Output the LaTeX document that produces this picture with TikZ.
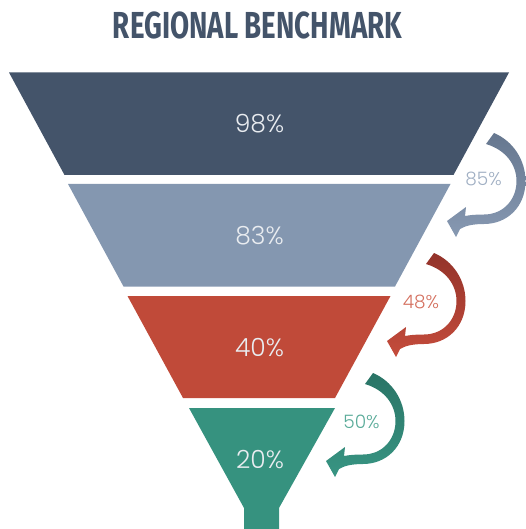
\documentclass[tikz,border=0pt]{standalone}
\usepackage{fontspec}
\newfontfamily\numfont{Poppins Light}
\newfontfamily\titlefont{Fira Sans}
\definecolor{slate}{HTML}{44546A}
\definecolor{slatelight}{HTML}{8497B0}
\definecolor{brick}{HTML}{C04A39}
\definecolor{teal}{HTML}{36927F}
\definecolor{slatearrowtop}{HTML}{66778F}
\definecolor{slatearrowbot}{HTML}{8799B2}
\definecolor{brickarrowtop}{HTML}{93332A}
\definecolor{brickarrowbot}{HTML}{C54C3C}
\definecolor{tealarrowtop}{HTML}{2A7466}
\definecolor{tealarrowbot}{HTML}{389583}
\definecolor{slatetext}{HTML}{A0AFC3}
\definecolor{bricktext}{HTML}{D4705F}
\definecolor{tealtext}{HTML}{5AAB99}
\definecolor{bandtext}{HTML}{E9ECF0}
\tikzset{
  bandlabel/.style={font=\numfont\fontsize{25}{25}\selectfont, text=bandtext, inner sep=0pt},
  sidelabel/.style={font=\numfont\fontsize{18.5}{18.5}\selectfont, inner sep=0pt},
}
% curved return arrow beside a funnel band: #1 shift, #2 top colour, #3 lower colour
\newcommand\returnarrow[3]{%
  \begin{scope}[shift={#1}]
    \shade[top color=#2, bottom color=#3]
      (494,133) .. controls (513,141) and (525.5,160) .. (525.5,181)
      .. controls (525.5,207) and (507,224) .. (484,224)
      .. controls (472,224) and (465,226) .. (460,229)
      -- (456,237) -- (447,221) -- (466,207) -- (465,216)
      .. controls (470,215) and (476,214.5) .. (484,214.5)
      .. controls (503,214.5) and (516.5,200) .. (516.5,181)
      .. controls (516.5,165) and (506,150) .. (486,144)
      -- cycle;
  \end{scope}}
\begin{document}
\begin{tikzpicture}[x=1pt,y=-1pt]
  \useasboundingbox (0,0) rectangle (525,529);

  % title
  \node[inner sep=0pt, text=slate] (title) at (257.5,25)
    {\resizebox{289pt}{26.7pt}{\titlefont\bfseries REGIONAL BENCHMARK}};

  % funnel bands
  \fill[slate]      (9,72.5) -- (509,72.5) -- (453.5,175) -- (64.5,175) -- cycle;
  \fill[slatelight] (68,184) -- (450.5,184) -- (395,286.5) -- (123.5,286.5) -- cycle;
  \fill[brick]      (127.5,296) -- (390.5,296) -- (335,398) -- (183,398) -- cycle;
  \fill[teal]       (189,408) -- (335,408) -- (279,508) -- (279,529)
                    -- (244,529) -- (244,508) -- cycle;

  % band values
  \node[bandlabel] (v1) at (259.5,124) {98\%};
  \node[bandlabel] (v2) at (259.5,236) {83\%};
  \node[bandlabel] (v3) at (259.5,348) {40\%};
  \node[bandlabel] (v4) at (260,460)   {20\%};

  % return arrows
  \returnarrow{(0,0)}{slatearrowtop}{slatearrowbot}
  \returnarrow{(-60,120)}{brickarrowtop}{brickarrowbot}
  \returnarrow{(-121,240)}{tealarrowtop}{tealarrowbot}

  % conversion rates
  \node[sidelabel, text=slatetext] (r1) at (483.5,178.5) {85\%};
  \node[sidelabel, text=bricktext] (r2) at (421,302)     {48\%};
  \node[sidelabel, text=tealtext]  (r3) at (361.5,421.5) {50\%};
\end{tikzpicture}
\end{document}
